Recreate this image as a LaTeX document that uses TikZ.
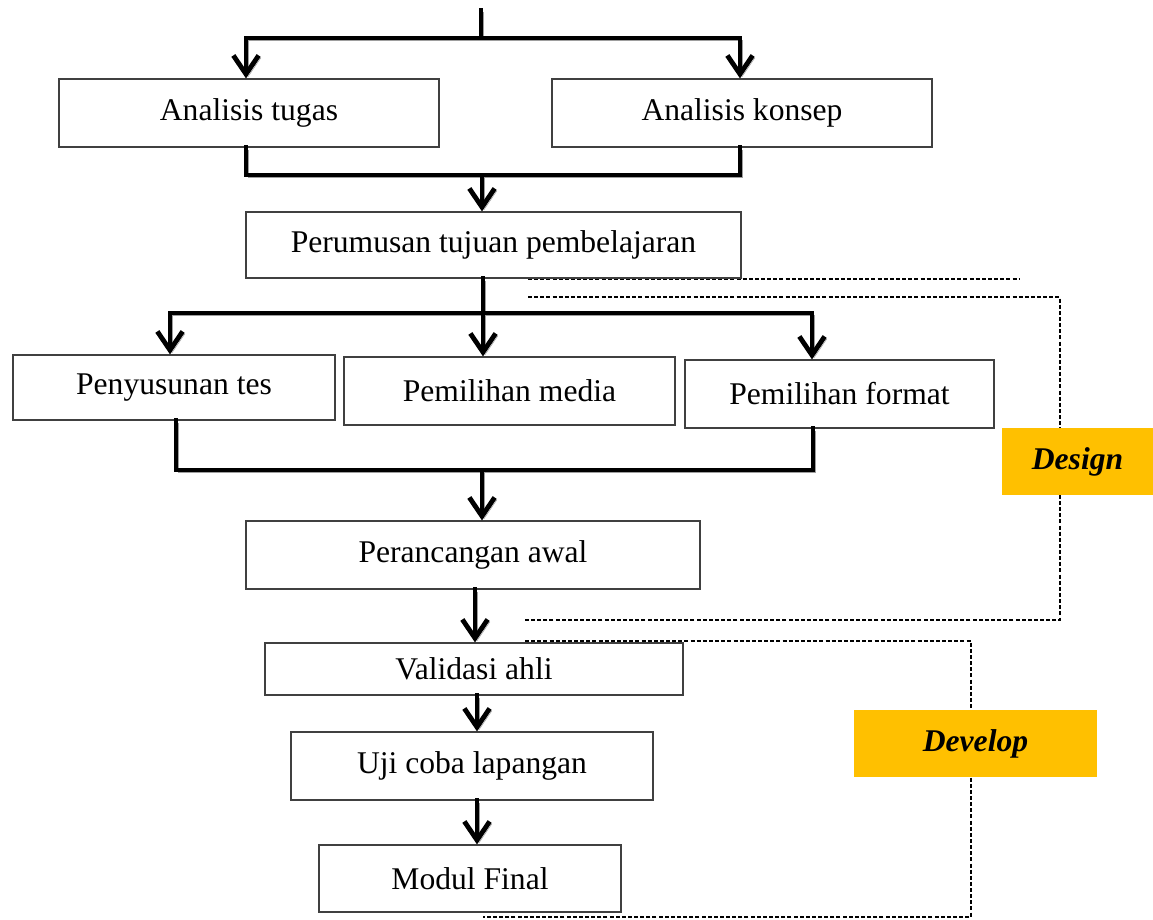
\documentclass[tikz,border=0pt]{standalone}
\usepackage{fontspec}
\setmainfont{Liberation Serif}
\usetikzlibrary{arrows.meta}
\definecolor{gold}{HTML}{FFC000}
\tikzset{
  box/.style={draw=black!75, line width=0.9pt, fill=white, inner sep=0pt,
    font=\fontsize{23.7}{28}\selectfont},
  conn/.style={line width=3.6pt, line cap=rect,
    preaction={draw=black!38, transform canvas={shift={(1.6pt,-1.8pt)}}}},
  arr/.style={conn, -{Straight Barb[length=14pt,width=19pt]}},
  dline/.style={line width=1.1pt, dash pattern=on 3pt off 1.6pt},
  tag/.style={fill=gold, inner sep=0pt, font=\fontsize{23.7}{28}\selectfont\bfseries\itshape}
}
\newcommand{\bx}[6]{\node[box, minimum width={(#4-#2)*0.75pt}, minimum height={(#5-#3)*0.75pt}] (#1) at ({(#2+#4)/2},{(#3+#5)/2}) {#6};}
\begin{document}
\begin{tikzpicture}[x=0.75pt,y=-0.75pt]
\useasboundingbox (0,0) rectangle (1153,920);
% dashed brackets
\coordinate (d1a) at (528,279); \coordinate (d1b) at (1020,279);
\coordinate (d2a) at (528,297); \coordinate (d2b) at (1060,297);
\coordinate (d2c) at (1060,620); \coordinate (d2d) at (525,620);
\coordinate (d3a) at (525,641); \coordinate (d3b) at (971,641);
\coordinate (d3c) at (971,917); \coordinate (d3d) at (483,917);
\draw[dline] (d1a) -- (d1b);
\draw[dline] (d2a) -- (d2b) -- (d2c) -- (d2d);
\draw[dline] (d3a) -- (d3b) -- (d3c) -- (d3d);
\node[tag, minimum width={151*0.75pt}, minimum height={67*0.75pt}] (design) at (1077.5,461.5) {Design};
\node[tag, minimum width={243*0.75pt}, minimum height={67*0.75pt}] (develop) at (975.5,743.5) {Develop};
% boxes
\bx{tugas}{59}{79}{439}{147}{Analisis tugas}
\bx{konsep}{552}{79}{932}{147}{Analisis konsep}
\bx{rumus}{246}{212}{741}{278}{Perumusan tujuan pembelajaran}
\bx{tes}{13}{355}{335}{420}{Penyusunan tes}
\bx{media}{344}{357}{675}{425}{Pemilihan media}
\bx{format}{685}{360}{994}{428}{Pemilihan format}
\bx{awal}{246}{521}{700}{589}{Perancangan awal}
\bx{valid}{265}{643}{683}{695}{Validasi ahli}
\bx{uji}{291}{732}{653}{800}{Uji coba lapangan}
\bx{final}{319}{845}{621}{912}{Modul Final}
% junction coordinates
\coordinate (start) at (481,10);
\coordinate (s1) at (481,38);
\coordinate (s1l) at (246,38);
\coordinate (s1r) at (740,38);
\coordinate (m1l) at (246,175);
\coordinate (m1r) at (740,175);
\coordinate (m1) at (482,175);
\coordinate (s2) at (483,313);
\coordinate (s2l) at (170,313);
\coordinate (s2r) at (812,313);
\coordinate (m2l) at (176,470);
\coordinate (m2r) at (813,470);
\coordinate (m2) at (482,470);
\coordinate (c1) at (475,0);
\coordinate (c2) at (477,0);
% connectors
\draw[conn] (start) -- (s1);
\draw[conn] (s1l) -- (s1r);
\draw[arr] (s1l) -- (s1l |- tugas.north);
\draw[arr] (s1r) -- (s1r |- konsep.north);
\draw[conn] (m1l |- tugas.south) -- (m1l) -- (m1r) -- (m1r |- konsep.south);
\draw[arr] (m1) -- (m1 |- rumus.north);
\draw[conn] (s2 |- rumus.south) -- (s2);
\draw[conn] (s2l) -- (s2r);
\draw[arr] (s2l) -- (s2l |- tes.north);
\draw[arr] (s2) -- (s2 |- media.north);
\draw[arr] (s2r) -- (s2r |- format.north);
\draw[conn] (m2l |- tes.south) -- (m2l) -- (m2r) -- (m2r |- format.south);
\draw[arr] (m2) -- (m2 |- awal.north);
\draw[arr] (c1 |- awal.south) -- (c1 |- valid.north);
\draw[arr] (c2 |- valid.south) -- (c2 |- uji.north);
\draw[arr] (c2 |- uji.south) -- (c2 |- final.north);
\end{tikzpicture}
\end{document}
